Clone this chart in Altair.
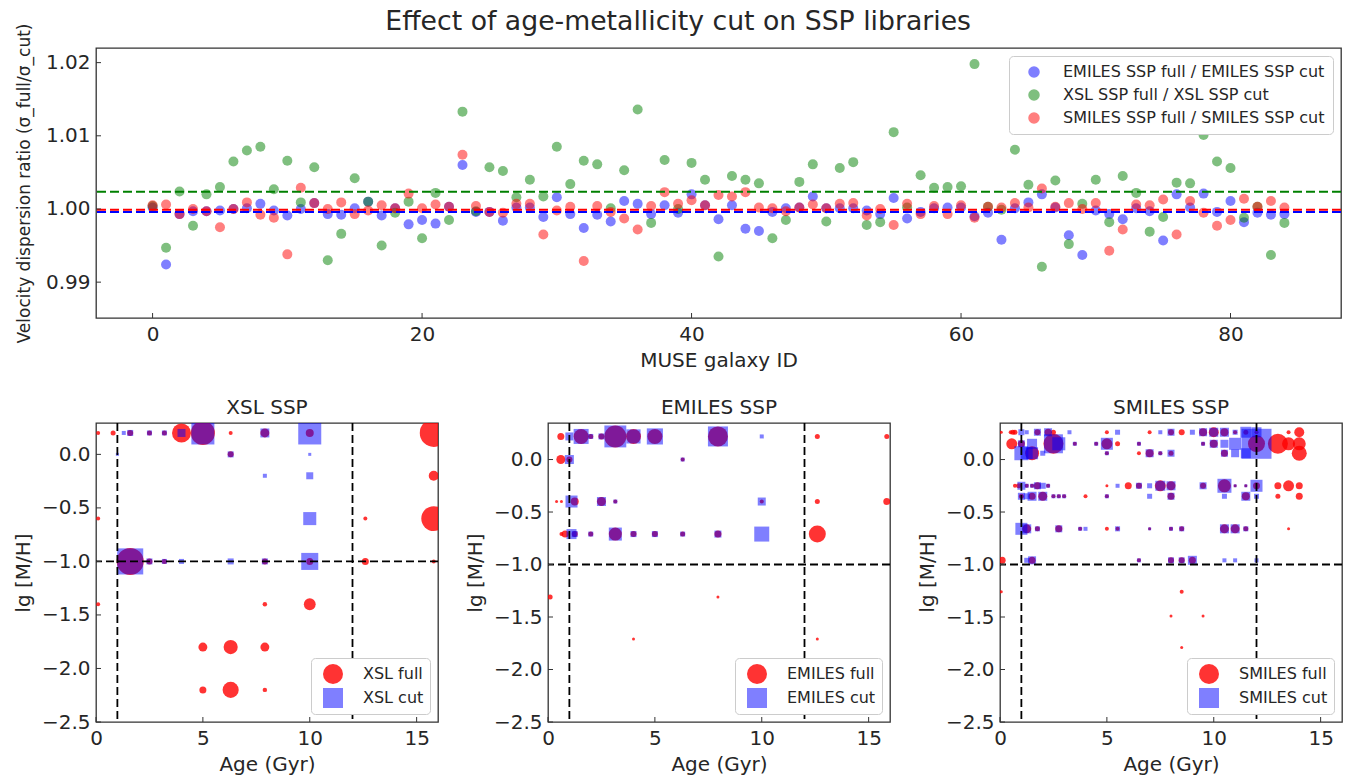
import altair as alt
import pandas as pd

FONT = "DejaVu Sans"
TXT = "#262626"
FRAME = "#333333"

# ---------------- top panel: velocity dispersion ratios ----------------
galaxy_id = list(range(85))

emiles_ratio = [
    1.0002, 0.9924, 0.9993, 0.9997, 0.9997, 0.9998, 1.0000, 1.0001, 1.0007, 0.9998,
    0.9991, 1.0000, 1.0008, 0.9993, 0.9992, 1.0001, 1.0010, 0.9991, 1.0001, 0.9979,
    0.9985, 0.9980, 1.0003, 1.0060, 0.9996, 0.9996, 0.9984, 1.0002, 1.0002, 0.9989,
    1.0016, 0.9993, 0.9974, 0.9992, 0.9983, 1.0011, 1.0007, 0.9993, 1.0005, 0.9995,
    1.0020, 1.0005, 0.9986, 1.0005, 0.9973, 0.9970, 0.9996, 1.0001, 1.0002, 1.0017,
    1.0001, 1.0001, 1.0001, 0.9998, 0.9993, 1.0015, 0.9987, 0.9996, 1.0001, 1.0002,
    1.0002, 0.9990, 0.9995, 0.9958, 1.0001, 1.0009, 1.0020, 1.0002, 0.9964, 0.9937,
    0.9998, 0.9993, 0.9986, 1.0001, 0.9997, 0.9957, 1.0020, 1.0002, 1.0021, 0.9996,
    1.0011, 0.9982, 0.9995, 0.9992, 0.9993,
]
xsl_ratio = [
    1.0004, 0.9947, 1.0024, 0.9977, 1.0020, 1.0030, 1.0065, 1.0080, 1.0085, 1.0027,
    1.0066, 1.0009, 1.0057, 0.9930, 0.9966, 1.0042, 1.0010, 0.9950, 0.9995, 1.0010,
    0.9960, 1.0022, 0.9985, 1.0133, 0.9997, 1.0057, 1.0052, 1.0016, 1.0040, 1.0017,
    1.0085, 1.0034, 1.0066, 1.0061, 1.0001, 1.0053, 1.0136, 0.9981, 1.0067, 1.0000,
    1.0063, 1.0040, 0.9935, 1.0045, 1.0040, 1.0035, 0.9960, 0.9985, 1.0037, 1.0061,
    0.9983, 1.0056, 1.0064, 0.9978, 0.9982, 1.0105, 1.0002, 1.0046, 1.0029, 1.0030,
    1.0031, 1.0198, 1.0003, 0.9999, 1.0081, 1.0033, 0.9921, 1.0039, 0.9952, 1.0007,
    1.0040, 0.9982, 1.0045, 1.0022, 0.9969, 0.9989, 1.0036, 1.0035, 1.0101, 1.0065,
    1.0056, 0.9988, 1.0003, 0.9937, 0.9981,
]
smiles_ratio = [
    1.0005, 1.0006, 0.9993, 1.0000, 0.9997, 0.9975, 1.0000, 1.0009, 0.9992, 0.9988,
    0.9938, 1.0029, 1.0008, 1.0000, 1.0009, 0.9993, 0.9998, 1.0005, 1.0001, 1.0021,
    1.0001, 1.0006, 1.0003, 1.0074, 1.0004, 0.9996, 0.9995, 1.0007, 1.0007, 0.9965,
    0.9998, 1.0003, 0.9929, 1.0004, 0.9996, 0.9987, 0.9972, 1.0004, 1.0023, 1.0007,
    1.0012, 1.0005, 1.0019, 1.0017, 1.0023, 1.0002, 1.0001, 0.9997, 1.0002, 1.0006,
    1.0001, 1.0007, 1.0008, 0.9991, 1.0000, 0.9978, 1.0007, 0.9993, 1.0004, 0.9993,
    1.0005, 0.9988, 1.0003, 1.0002, 1.0008, 1.0002, 1.0028, 1.0003, 1.0008, 1.0000,
    1.0008, 0.9943, 0.9972, 1.0006, 1.0005, 1.0013, 0.9965, 1.0011, 0.9995, 0.9977,
    0.9985, 1.0014, 1.0003, 1.0011, 1.0002,
]
ratio_series = [
    "EMILES SSP full / EMILES SSP cut",
    "XSL SSP full / XSL SSP cut",
    "SMILES SSP full / SMILES SSP cut",
]
ratio_colors = ["#0000ff", "#008000", "#ff0000"]
median_ratio = [0.99960, 1.00236, 0.99990]
top_x_ticks = [0, 20, 40, 60, 80]
top_y_ticks = [0.99, 1.00, 1.01, 1.02]

# ---------------- bottom panels: SSP weights (age [Gyr], [M/H], weight) ----------------
xsl_full = [
    (0.1, 0.2, 1.6), (0.8, 0.2, 2.5), (1.6, 0.2, 3.6), (2.5, 0.2, 2.5), (3.2, 0.2, 2.5),
    (4.0, 0.2, 36), (5.0, 0.2, 58), (6.3, 0.2, 1.6), (7.9, 0.2, 8), (10.0, 0.2, 6.4),
    (15.8, 0.2, 78), (6.3, 0.0, 3.6), (15.8, -0.2, 10),
    (0.1, -0.6, 1.6), (12.6, -0.6, 1.6), (15.8, -0.6, 62),
    (1.6, -1.0, 73), (2.5, -1.0, 3.6), (3.2, -1.0, 2.5), (7.9, -1.0, 3.6), (10.0, -1.0, 4.9),
    (12.6, -1.0, 4.9), (15.8, -1.0, 1.6),
    (0.1, -1.4, 1.6), (7.9, -1.4, 2.0), (10.0, -1.4, 14),
    (5.0, -1.8, 8), (6.3, -1.8, 20), (7.9, -1.8, 8),
    (5.0, -2.2, 4.9), (6.3, -2.2, 26), (7.9, -2.2, 2.0),
]
xsl_cut = [
    (1.3, 0.2, 1.6), (1.6, 0.2, 3.6), (2.5, 0.2, 2.5), (3.2, 0.2, 2.5), (4.0, 0.2, 6.4),
    (5.0, 0.2, 53), (7.9, 0.2, 8), (10.0, 0.2, 53),
    (1.0, 0.0, 0.9), (6.3, 0.0, 3.6), (10.0, 0.0, 0.9),
    (7.9, -0.2, 1.6), (10.0, -0.2, 4.9), (10.0, -0.6, 17),
    (1.6, -1.0, 68), (2.5, -1.0, 3.6), (3.2, -1.0, 2.5), (4.0, -1.0, 2.5), (6.3, -1.0, 3.6),
    (7.9, -1.0, 3.6), (10.0, -1.0, 29),
]
emiles_full = [
    (0.6, 0.22, 4.9), (1.55, 0.22, 22.5), (2.0, 0.22, 2.5), (2.5, 0.22, 3.6), (3.15, 0.22, 48),
    (4.0, 0.22, 22.5), (5.0, 0.22, 22.5), (7.95, 0.22, 40), (12.6, 0.22, 2.5), (15.85, 0.22, 2.5),
    (0.6, 0.0, 8.1), (1.0, 0.0, 3.6), (6.3, 0.0, 1.6),
    (0.4, -0.40, 0.9), (0.63, -0.40, 0.9), (1.25, -0.40, 6.4), (2.5, -0.40, 8.1), (3.15, -0.40, 1.6),
    (10.0, -0.40, 1.6), (12.6, -0.40, 2.5), (15.85, -0.40, 4.9),
    (0.63, -0.71, 1.6), (0.8, -0.71, 4.9), (1.25, -0.71, 3.6), (2.0, -0.71, 2.5), (3.15, -0.71, 17),
    (4.0, -0.71, 3.6), (5.0, -0.71, 3.6), (6.3, -0.71, 2.5), (7.95, -0.71, 4.9), (12.6, -0.71, 29),
    (0.1, -1.31, 2.5), (7.95, -1.31, 0.9), (4.0, -1.71, 0.9), (12.6, -1.71, 0.9),
]
emiles_cut = [
    (1.0, 0.22, 6.4), (1.55, 0.22, 22.5), (2.0, 0.22, 2.5), (2.5, 0.22, 3.6), (3.15, 0.22, 48),
    (4.0, 0.22, 20), (5.0, 0.22, 26), (7.95, 0.22, 40), (10.0, 0.22, 1.6),
    (1.0, 0.0, 8.1), (6.3, 0.0, 1.6),
    (1.1, -0.40, 14.4), (2.5, -0.40, 8.1), (3.15, -0.40, 1.6), (10.0, -0.40, 6.4),
    (1.1, -0.71, 10), (1.25, -0.71, 3.6), (2.0, -0.71, 2.5), (3.15, -0.71, 17), (4.0, -0.71, 3.6),
    (5.0, -0.71, 3.6), (6.3, -0.71, 2.5), (7.95, -0.71, 4.9), (10.0, -0.71, 22.5),
]
smiles_full = [
    (0.06, 0.26, 0.9), (0.5, 0.26, 1.6), (0.6, 0.26, 2.5), (0.7, 0.26, 2.5), (1.75, 0.26, 3.6),
    (2.25, 0.26, 4.9), (2.5, 0.26, 2.5), (5.0, 0.26, 1.6), (7.0, 0.26, 1.6), (8.0, 0.26, 3.6),
    (8.5, 0.26, 3.6), (9.5, 0.26, 6.4), (10.0, 0.26, 10), (10.5, 0.26, 6.4), (11.0, 0.26, 1.6),
    (11.5, 0.26, 2.5), (12.0, 0.26, 1.6), (13.5, 0.26, 1.6), (14.0, 0.26, 10),
    (0.55, 0.15, 12), (1.0, 0.15, 4.9), (2.5, 0.15, 40), (3.5, 0.15, 1.6), (4.5, 0.15, 1.6),
    (5.0, 0.15, 12), (5.5, 0.15, 2.5), (6.5, 0.15, 1.6), (9.5, 0.15, 1.6), (10.0, 0.15, 6.4),
    (12.0, 0.15, 29), (13.0, 0.15, 40), (13.5, 0.15, 17), (14.0, 0.15, 17),
    (1.5, 0.06, 19.6), (5.0, 0.06, 1.6), (6.5, 0.06, 1.6), (7.0, 0.06, 6.4), (7.5, 0.06, 1.6),
    (8.0, 0.06, 2.5), (10.5, 0.06, 4.9), (14.0, 0.06, 22.5),
    (0.7, -0.25, 1.6), (0.875, -0.25, 2.5), (1.25, -0.25, 1.6), (1.5, -0.25, 1.6), (1.75, -0.25, 4.9),
    (2.25, -0.25, 1.6), (5.0, -0.25, 0.9), (6.0, -0.25, 4.9), (6.5, -0.25, 3.6), (7.5, -0.25, 12),
    (8.0, -0.25, 8.1), (9.5, -0.25, 3.6), (10.5, -0.25, 17), (11.0, -0.25, 0.9), (11.5, -0.25, 0.9),
    (12.0, -0.25, 4.9), (13.0, -0.25, 4.9), (13.5, -0.25, 12), (14.0, -0.25, 4.9),
    (1.0, -0.35, 2.5), (1.5, -0.35, 4.9), (2.0, -0.35, 8.1), (2.5, -0.35, 1.6), (2.75, -0.35, 1.6),
    (3.0, -0.35, 1.6), (4.0, -0.35, 1.6), (5.0, -0.35, 1.6), (8.0, -0.35, 4.9), (11.5, -0.35, 6.4),
    (13.0, -0.35, 2.5), (14.0, -0.35, 4.9),
    (1.25, -0.66, 8.1), (1.75, -0.66, 2.5), (2.75, -0.66, 4.9), (3.75, -0.66, 1.6), (5.0, -0.66, 1.6),
    (5.5, -0.66, 1.6), (7.0, -0.66, 0.9), (8.0, -0.66, 1.6), (8.5, -0.66, 2.5), (10.5, -0.66, 8.1),
    (11.0, -0.66, 8.1), (11.5, -0.66, 2.5), (13.5, -0.66, 0.9),
    (0.1, -0.96, 4.9), (1.5, -0.96, 4.9), (6.5, -0.96, 1.6), (8.0, -0.96, 3.6), (8.5, -0.96, 3.6),
    (9.0, -0.96, 4.9),
    (0.06, -1.26, 0.9), (8.5, -1.26, 1.6), (8.0, -1.49, 0.9), (9.5, -1.49, 0.9), (8.5, -1.79, 0.9),
]
smiles_cut = [
    (1.0, 0.26, 3.6), (1.25, 0.26, 1.6), (1.75, 0.26, 4.9), (2.25, 0.26, 6.4), (3.25, 0.26, 1.6),
    (5.5, 0.26, 2.5), (7.5, 0.26, 1.6), (8.0, 0.26, 4.9), (9.0, 0.26, 2.5), (9.5, 0.26, 6.4),
    (10.0, 0.26, 8.1), (10.5, 0.26, 8.1), (11.0, 0.26, 2.5), (11.5, 0.26, 12), (12.0, 0.26, 10),
    (1.0, 0.15, 4.9), (1.5, 0.15, 10), (2.5, 0.15, 36), (2.75, 0.15, 17), (3.5, 0.15, 1.6),
    (4.5, 0.15, 1.6), (5.0, 0.15, 14.4), (6.5, 0.15, 1.6), (9.5, 0.15, 1.6), (10.0, 0.15, 6.4),
    (10.5, 0.15, 6.4), (11.0, 0.15, 14.4), (12.0, 0.15, 90),
    (1.0, 0.06, 19.6), (1.25, 0.06, 14.4), (1.5, 0.06, 14.4), (2.0, 0.06, 2.5), (5.0, 0.06, 1.6),
    (7.0, 0.06, 6.4), (7.5, 0.06, 1.6), (8.0, 0.06, 4.9), (10.5, 0.06, 4.9), (11.0, 0.06, 6.4),
    (11.5, 0.06, 10),
    (1.0, -0.25, 6.4), (1.25, -0.25, 1.6), (1.5, -0.25, 1.6), (1.75, -0.25, 4.9), (2.0, -0.25, 3.6),
    (2.25, -0.25, 1.6), (5.5, -0.25, 1.6), (6.5, -0.25, 3.6), (7.0, -0.25, 2.5), (7.5, -0.25, 10),
    (8.0, -0.25, 8.1), (9.5, -0.25, 4.9), (10.5, -0.25, 19.6), (11.0, -0.25, 0.9), (11.5, -0.25, 0.9),
    (12.0, -0.25, 14.4),
    (1.0, -0.35, 4.9), (1.25, -0.35, 3.6), (1.5, -0.35, 8.1), (2.0, -0.35, 8.1), (2.5, -0.35, 1.6),
    (2.75, -0.35, 1.6), (3.0, -0.35, 1.6), (5.0, -0.35, 1.6), (7.0, -0.35, 2.5), (8.0, -0.35, 4.9),
    (10.5, -0.35, 2.5), (11.5, -0.35, 8.1), (12.0, -0.35, 2.5),
    (1.0, -0.66, 14.4), (1.25, -0.66, 8.1), (1.75, -0.66, 2.5), (2.75, -0.66, 4.9), (3.75, -0.66, 1.6),
    (4.0, -0.66, 1.6), (5.5, -0.66, 2.5), (7.0, -0.66, 0.9), (8.0, -0.66, 1.6), (8.5, -0.66, 2.5),
    (10.5, -0.66, 8.1), (11.0, -0.66, 8.1), (11.5, -0.66, 2.5),
    (1.25, -0.96, 2.5), (1.5, -0.96, 6.4), (6.5, -0.96, 1.6), (8.0, -0.96, 3.6), (8.5, -0.96, 3.6),
    (9.0, -0.96, 8.1), (10.5, -0.96, 1.6), (11.0, -0.96, 1.6), (12.0, -0.96, 1.6),
]
age_cuts = [1.0, 12.0]
mh_cuts = [-1.0]
ssp_x_ticks = [0, 5, 10, 15]
ssp_y_ticks = [-2.5, -2.0, -1.5, -1.0, -0.5, 0.0]

TOP_W, TOP_H = 1245, 270
PW, PH = 342, 299
TICK = 5


def tick_layers(xfield, xvals, xscale, xaxis, yfield, yvals, yscale, yaxis, h):
    xt = alt.Chart(pd.DataFrame({xfield: xvals})).mark_rule(color=FRAME, strokeWidth=1).encode(
        x=alt.X(f"{xfield}:Q", scale=xscale, axis=xaxis),
        y=alt.value(h), y2=alt.value(h - TICK))
    yt = alt.Chart(pd.DataFrame({yfield: yvals})).mark_rule(color=FRAME, strokeWidth=1).encode(
        y=alt.Y(f"{yfield}:Q", scale=yscale, axis=yaxis),
        x=alt.value(0), x2=alt.value(TICK))
    return xt, yt


# ---- top chart ----
top_rows = []
for name, vals in zip(ratio_series, [emiles_ratio, xsl_ratio, smiles_ratio]):
    for gid, v in zip(galaxy_id, vals):
        top_rows.append({"id": gid, "ratio": v, "series": name, "k": len(top_rows)})
top_df = pd.DataFrame(top_rows)
med_df = pd.DataFrame({"series": ratio_series, "ratio": median_ratio})

x_top = alt.Scale(domain=[-4.2, 88.2], nice=False, zero=False)
y_top = alt.Scale(domain=[0.9851, 1.0220], nice=False, zero=False)
c_top = alt.Scale(domain=ratio_series, range=ratio_colors)
ax_top_x = alt.Axis(values=top_x_ticks, format="d", title="MUSE galaxy ID")
ax_top_y = alt.Axis(values=top_y_ticks, format=".2f",
                    title="Velocity dispersion ratio (σ_full/σ_cut)",
                    titleFontSize=17, titlePadding=12)

top_pts = alt.Chart(top_df).mark_circle(size=100, opacity=0.5).encode(
    x=alt.X("id:Q", scale=x_top, axis=ax_top_x),
    y=alt.Y("ratio:Q", scale=y_top, axis=ax_top_y),
    color=alt.Color("series:N", scale=c_top,
                    legend=alt.Legend(title=None, orient="top-right", offset=8, symbolSize=100,
                                      symbolOpacity=0.5, symbolType="circle", padding=8,
                                      symbolOffset=9, labelOffset=21, rowPadding=7,
                                      labelLimit=400, fillColor="white", strokeColor="#cccccc",
                                      cornerRadius=4)),
    order=alt.Order("k:Q"),
)
top_med = alt.Chart(med_df).mark_rule(strokeDash=[9, 4], strokeWidth=2).encode(
    y=alt.Y("ratio:Q", scale=y_top, axis=ax_top_y),
    color=alt.Color("series:N", scale=c_top, legend=None),
)
txt_, tyt_ = tick_layers("id", top_x_ticks, x_top, ax_top_x, "ratio", top_y_ticks, y_top, ax_top_y, TOP_H)
top = alt.layer(top_pts, top_med, txt_, tyt_).properties(width=TOP_W, height=TOP_H)


# ---- SSP panels ----
def ssp_panel(name, full, cut, y_hi):
    rows = [{"age": a, "mh": m, "w": w, "kind": f"{name} full"} for a, m, w in full]
    rows += [{"age": a, "mh": m, "w": w, "kind": f"{name} cut"} for a, m, w in cut]
    df = pd.DataFrame(rows)
    df["k"] = range(len(df))
    kinds = [f"{name} full", f"{name} cut"]
    xs = alt.Scale(domain=[0, 16], nice=False, zero=False)
    ys = alt.Scale(domain=[-2.5, y_hi], nice=False, zero=False)
    ax_x = alt.Axis(values=ssp_x_ticks, format="d", title="Age (Gyr)")
    ax_y = alt.Axis(values=ssp_y_ticks, format=".1f", title="lg [M/H]", titlePadding=8)
    leg = alt.Legend(title=None, orient="bottom-right", offset=8, symbolSize=400, padding=6,
                     symbolOffset=6, labelOffset=20, rowPadding=4, fillColor="white",
                     strokeColor="#cccccc", cornerRadius=4, symbolStrokeWidth=0)
    pts = alt.Chart(df).mark_point(filled=True, strokeWidth=0, clip=True).encode(
        x=alt.X("age:Q", scale=xs, axis=ax_x),
        y=alt.Y("mh:Q", scale=ys, axis=ax_y),
        color=alt.Color("kind:N", scale=alt.Scale(domain=kinds, range=["#ff0000", "#0000ff"]), legend=leg),
        shape=alt.Shape("kind:N", scale=alt.Scale(domain=kinds, range=["circle", "square"]), legend=leg),
        opacity=alt.Opacity("kind:N", scale=alt.Scale(domain=kinds, range=[0.8, 0.5]), legend=leg),
        size=alt.Size("w:Q", scale=alt.Scale(domain=[0, 100], range=[0, 1000]), legend=None),
        order=alt.Order("k:Q"),
    )
    vl = alt.Chart(pd.DataFrame({"age": age_cuts})).mark_rule(
        color="black", strokeDash=[8, 4], strokeWidth=1.8).encode(x=alt.X("age:Q", scale=xs, axis=ax_x))
    hl = alt.Chart(pd.DataFrame({"mh": mh_cuts})).mark_rule(
        color="black", strokeDash=[8, 4], strokeWidth=1.8).encode(y=alt.Y("mh:Q", scale=ys, axis=ax_y))
    xt, yt = tick_layers("age", ssp_x_ticks, xs, ax_x, "mh", ssp_y_ticks, ys, ax_y, PH)
    return alt.layer(pts, vl, hl, xt, yt).properties(
        width=PW, height=PH,
        title=alt.TitleParams(f"{name} SSP", fontSize=20, offset=4))


RES = dict(color="independent", shape="independent", opacity="independent", size="independent")
bottom = alt.hconcat(
    ssp_panel("XSL", xsl_full, xsl_cut, 0.293),
    ssp_panel("EMILES", emiles_full, emiles_cut, 0.348),
    ssp_panel("SMILES", smiles_full, smiles_cut, 0.348),
    spacing=110, bounds="flush",
).resolve_scale(**RES)

chart = alt.vconcat(top, bottom, spacing=105, bounds="flush").resolve_scale(**RES).properties(
    title=alt.TitleParams("Effect of age-metallicity cut on SSP libraries", fontSize=26.7,
                          anchor="middle", offset=-13),
    padding={"left": 12, "top": 8, "right": 5, "bottom": 2},
).configure(font=FONT).configure_view(stroke=FRAME, strokeWidth=1.3).configure_axis(
    domain=False, grid=False, ticks=False, tickSize=0, labelPadding=6, labelFlush=False,
    labelFont=FONT, labelFontSize=20, labelColor=TXT,
    titleFont=FONT, titleFontSize=20, titleColor=TXT, titleFontWeight="normal", titlePadding=6,
).configure_legend(labelFont=FONT, labelFontSize=16, labelColor=TXT).configure_title(
    font=FONT, fontWeight="normal", color=TXT)

chart.save("out.html", embed_options={"renderer": "svg", "actions": False})
